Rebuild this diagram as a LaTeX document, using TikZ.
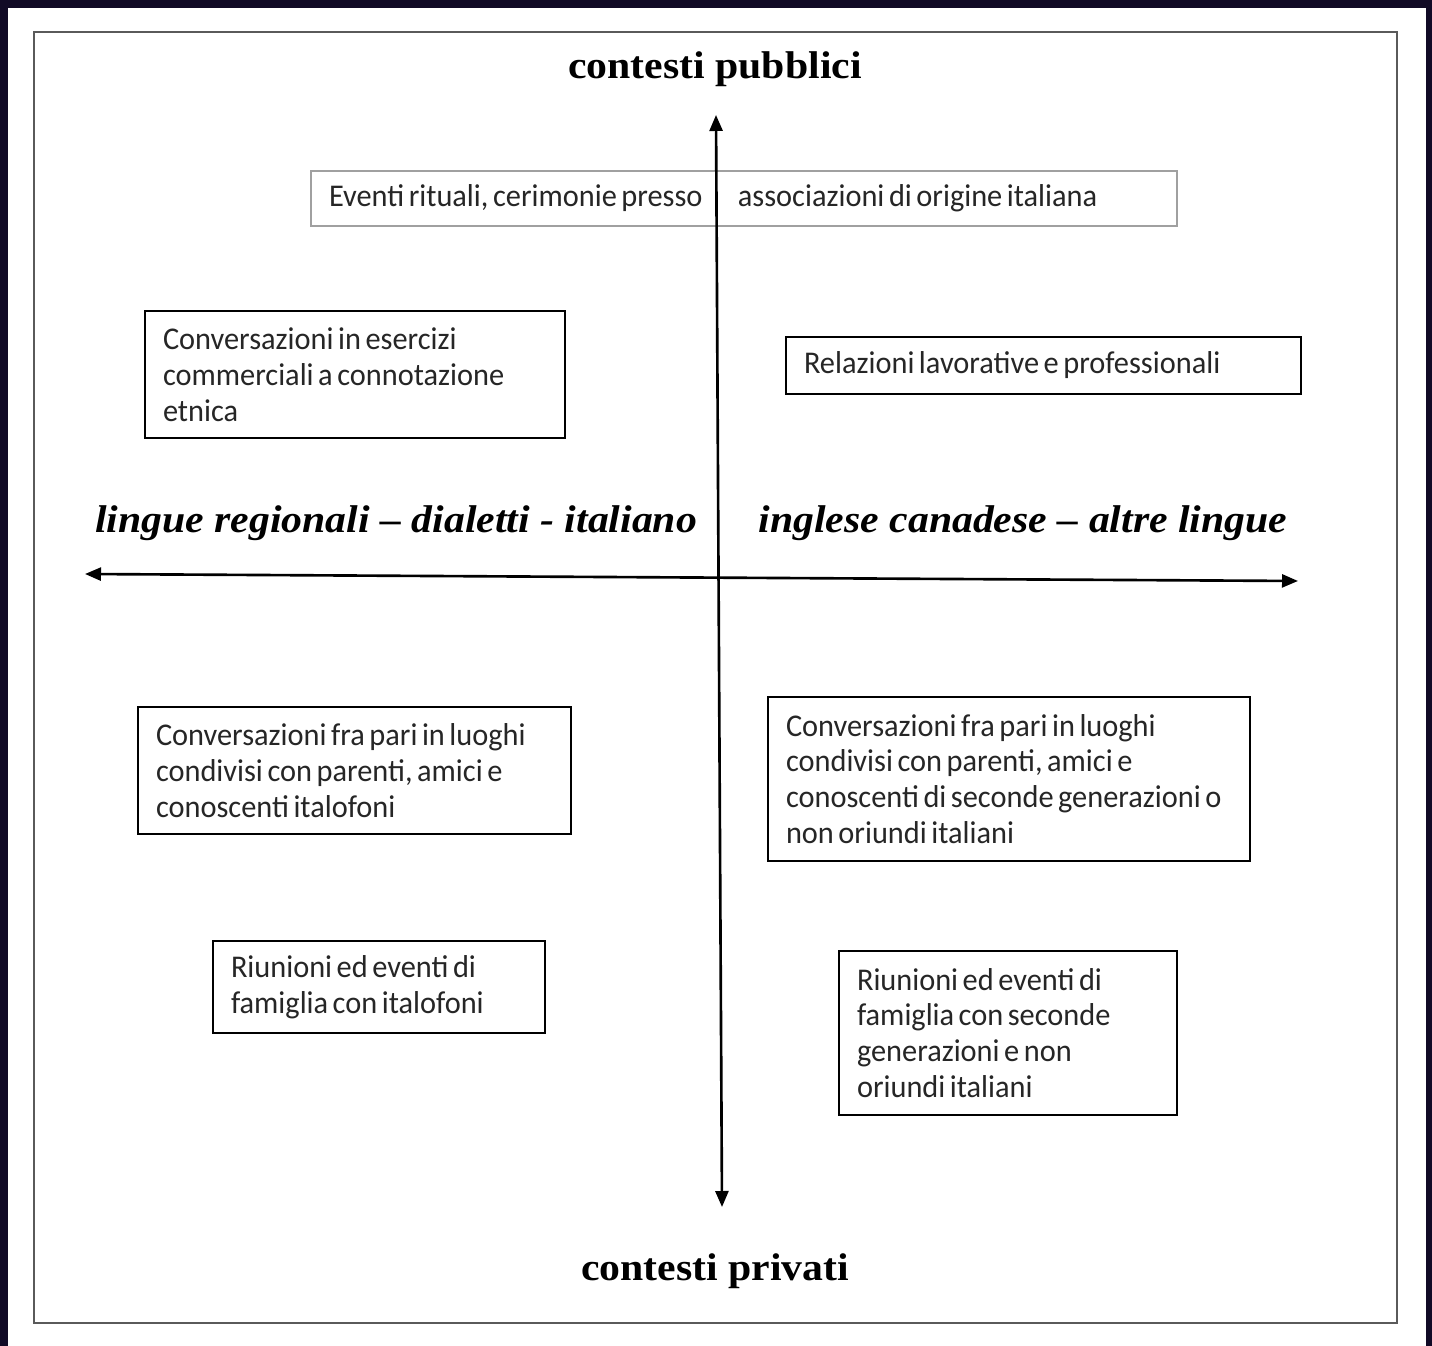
\documentclass[tikz,border=0pt]{standalone}
\usepackage{fontspec}
\newfontfamily\boxfont[FakeStretch=0.96]{Carlito}
\newfontfamily\headfont[FakeStretch=1.08]{Liberation Serif}
\usetikzlibrary{arrows.meta}
\hyphenpenalty=10000
\newcommand\tightwords{\spaceskip=1.3pt plus 0.5pt\relax}
\definecolor{framedark}{HTML}{110A26}
\definecolor{framegray}{HTML}{5A5A5A}
\definecolor{boxgray}{HTML}{A0A0A0}
\definecolor{textgray}{HTML}{262626}
\tikzset{
  place/.style={draw, rectangle, line width=0.6pt, text=textgray,
    font=\boxfont\fontsize{9}{10.2}\selectfont, align=left,
    execute at begin node=\tightwords,
    inner xsep=0.18cm, inner ysep=0pt},
  heading/.style={font=\headfont\fontsize{11}{13}\selectfont\bfseries},
  language/.style={font=\headfont\fontsize{11}{13}\selectfont\bfseries\itshape},
  axis/.style={line width=0.75pt, {Triangle[length=0.16cm,width=0.13cm]}-{Triangle[length=0.16cm,width=0.13cm]}}
}
\begin{document}
\begin{tikzpicture}
  \useasboundingbox (0,0) rectangle (14.32,-13.46);
  \fill[framedark] (0,0) rectangle (14.32,-13.46);
  \fill[white] (0.08,-0.08) rectangle (14.26,-13.46);
  \draw[framegray, line width=0.8pt] (0.34,-0.32) rectangle (13.97,-13.23);

  \node[heading] (pubblici) at (7.15,-0.69) {contesti pubblici};
  \node[heading] (privati) at (7.15,-12.71) {contesti privati};
  \node[language] (italiano) at (3.96,-5.23) {lingue regionali – dialetti - italiano};
  \node[language] (inglese) at (10.23,-5.23) {inglese canadese – altre lingue};

  \coordinate (top) at (7.16,-1.15);
  \coordinate (bottom) at (7.22,-12.07);
  \coordinate (left) at (0.85,-5.74);
  \coordinate (right) at (12.98,-5.81);

  \node[place, draw=boxgray, text width=8.30cm, minimum height=0.55cm] (eventi) at (7.44,-1.985)
    {\makebox[4.09cm][l]{Eventi rituali, cerimonie presso}associazioni di origine italiana};
  \node[place, text width=3.84cm, minimum height=1.27cm] (esercizi) at (3.55,-3.745)
    {Conversazioni in esercizi\\commerciali a connotazione\\etnica};
  \node[place, text width=4.79cm, minimum height=0.57cm] (lavoro) at (10.435,-3.655)
    {Relazioni lavorative e professionali};
  \node[place, text width=3.97cm, minimum height=1.27cm] (paritalo) at (3.545,-7.705)
    {Conversazioni fra pari in luoghi\\condivisi con parenti, amici e\\conoscenti italofoni};
  \node[place, text width=4.46cm, minimum height=1.64cm] (pariseconde) at (10.09,-7.79)
    {Conversazioni fra pari in luoghi\\condivisi con parenti, amici e\\conoscenti di seconde generazioni o\\non oriundi italiani};
  \node[place, text width=2.96cm, minimum height=0.92cm] (famitalo) at (3.79,-9.87)
    {Riunioni ed eventi di\\famiglia con italofoni};
  \node[place, text width=3.02cm, minimum height=1.64cm] (famseconde) at (10.08,-10.33)
    {Riunioni ed eventi di\\famiglia con seconde\\generazioni e non\\oriundi italiani};

  \draw[axis] (left) -- (right);
  \draw[axis] (bottom) -- (top);
\end{tikzpicture}
\end{document}
